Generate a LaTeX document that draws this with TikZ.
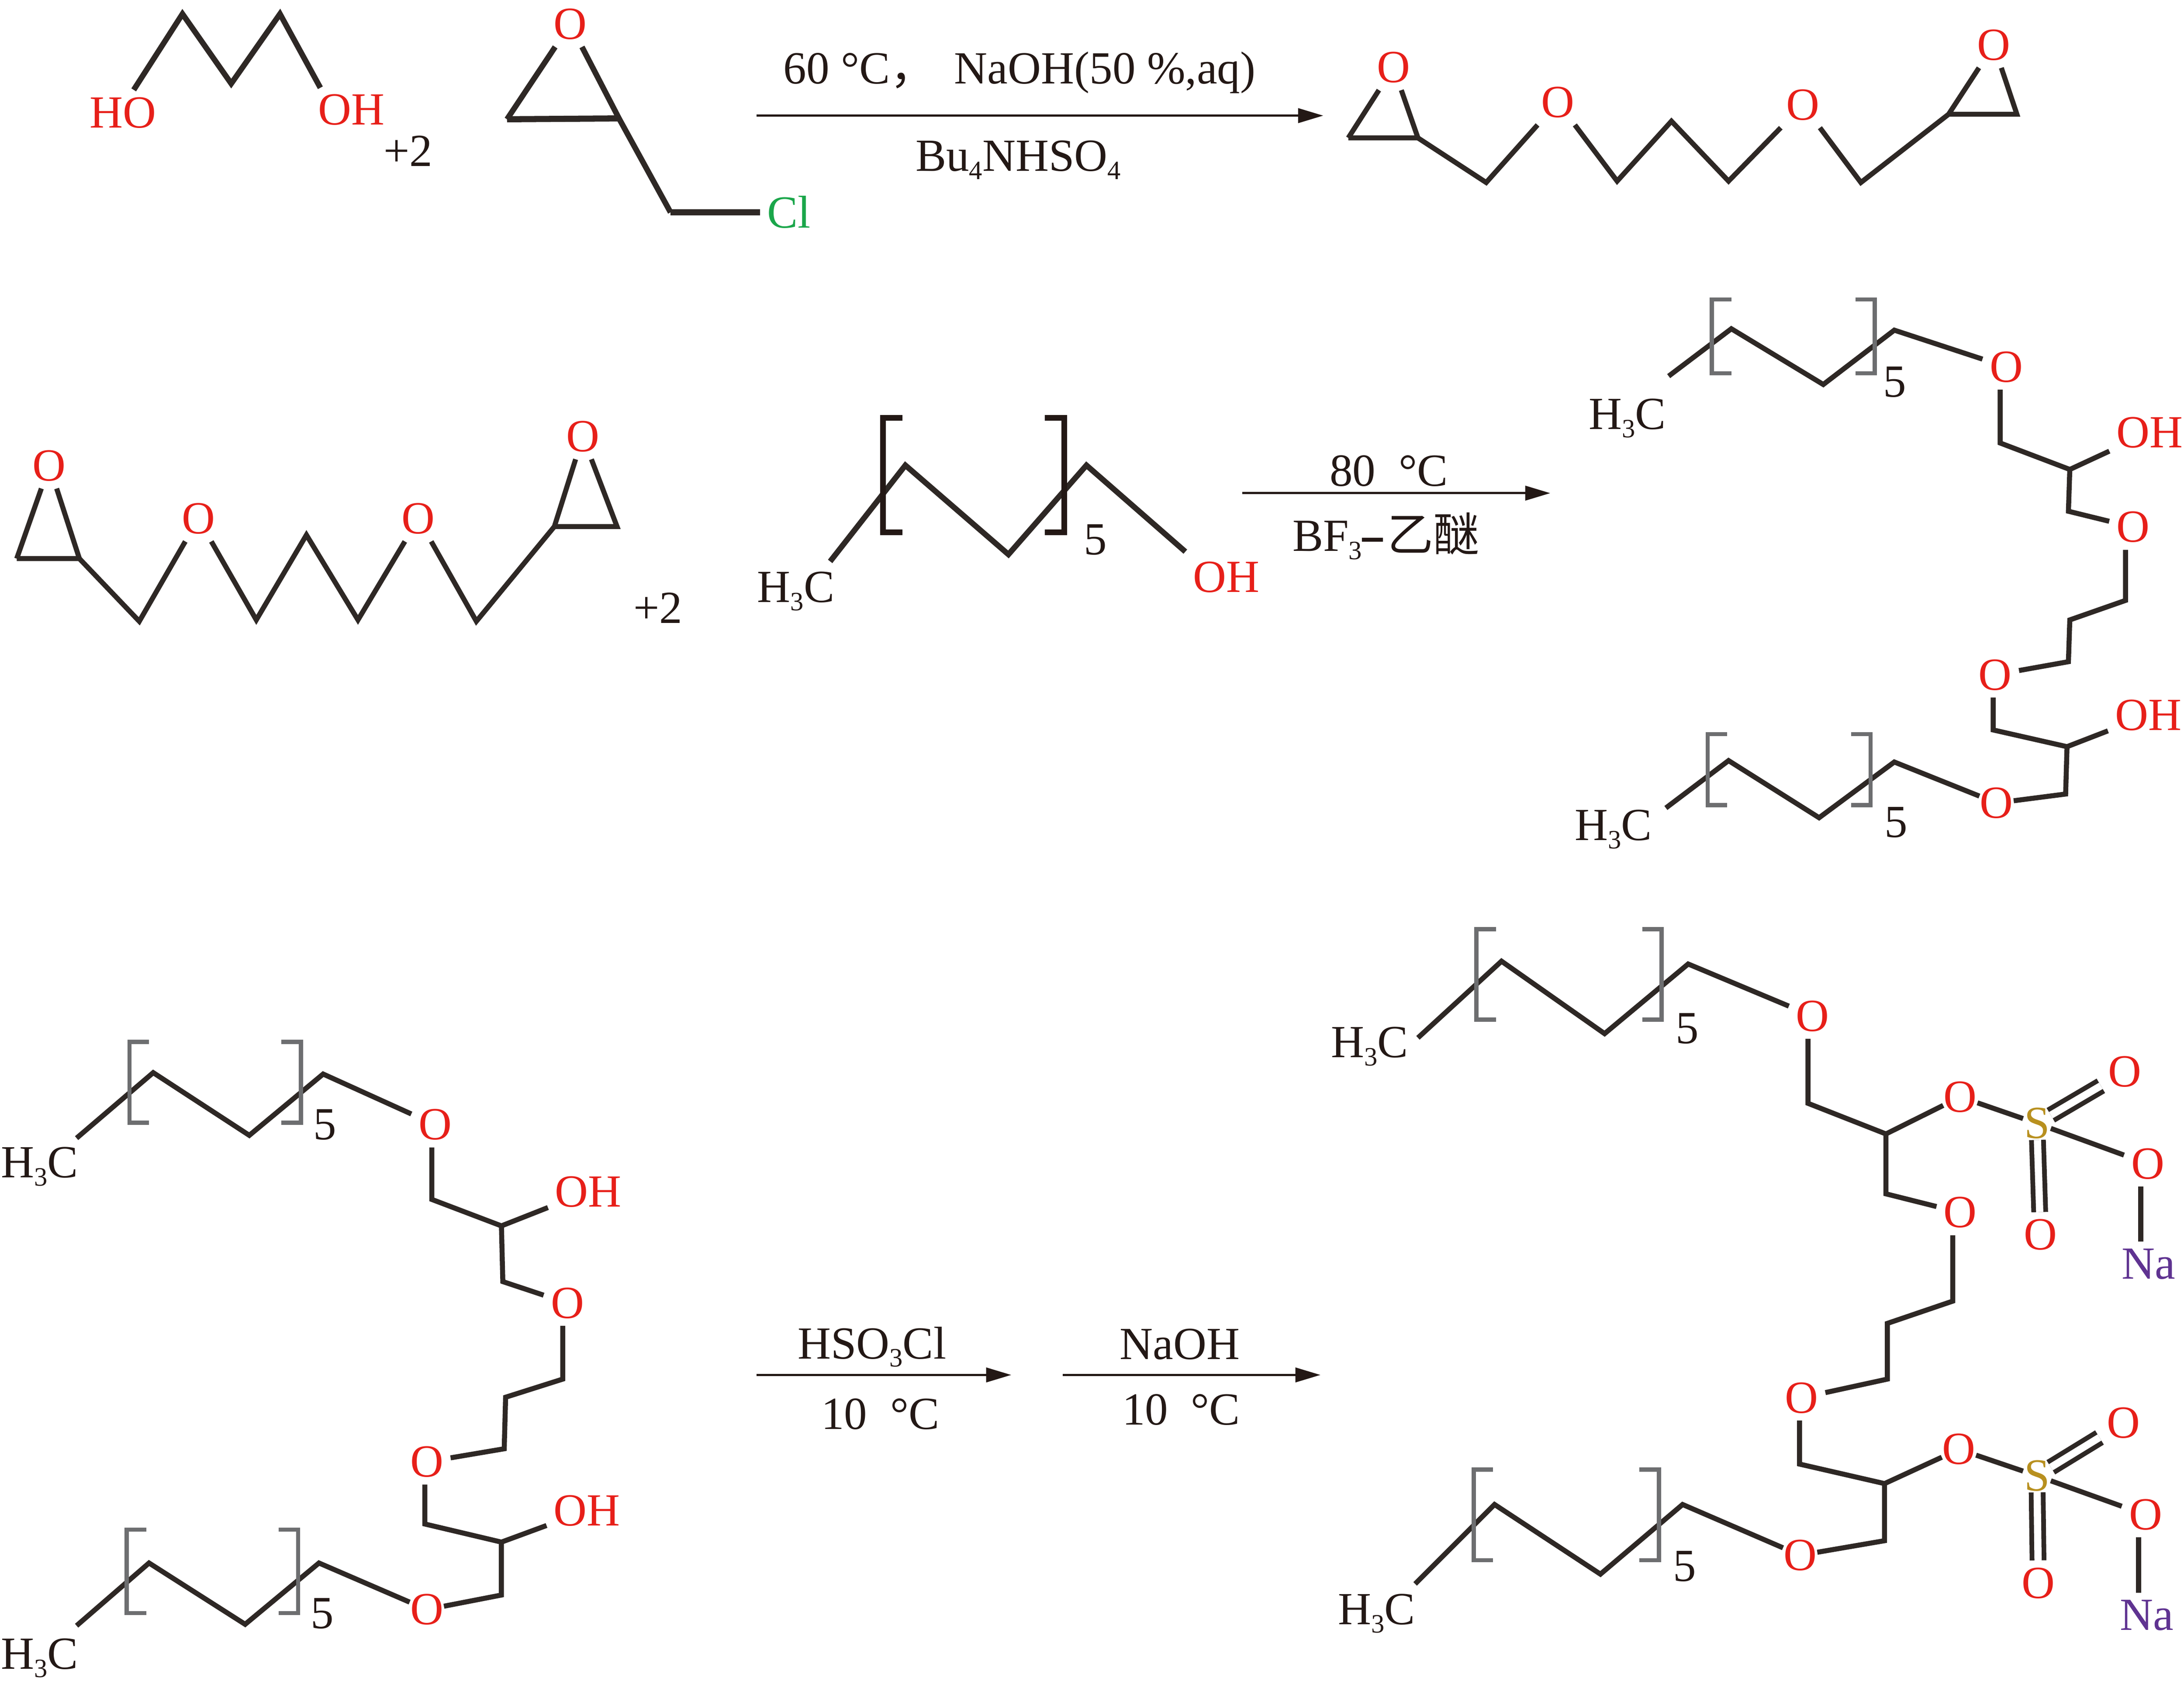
\documentclass[tikz,border=0pt]{standalone}
\usepackage{fontspec}
\setmainfont{Liberation Serif}
\newfontfamily\cjkfont{Noto Sans CJK SC}
\usetikzlibrary{arrows.meta}
\definecolor{ink}{HTML}{2E2825}
\definecolor{tipink}{HTML}{231815}
\definecolor{oxred}{HTML}{E71F19}
\definecolor{clgreen}{HTML}{1AA64A}
\definecolor{napurple}{HTML}{5F3391}
\definecolor{sgold}{HTML}{B8901F}
\definecolor{brkgray}{HTML}{6D6E70}
\newcommand{\lowsub}[1]{\raisebox{-0.18em}[0pt][0pt]{\fontsize{9.5}{9.5}\selectfont #1}}
\newcommand{\atomfont}{\fontsize{16.5}{18}\selectfont}
\tikzset{
  bond/.style={draw=ink,line width=1.8pt,line join=miter},
  heavybond/.style={bond,line width=2pt},
  thickbase/.style={bond,line width=2.2pt},
  dbl/.style={draw=ink,line width=1.7pt,double=white,double distance=2.6pt},
  atom/.style={font=\atomfont,inner sep=0pt,outer sep=2.6pt,xshift=0.2pt,yshift=-0.2pt},
  ox/.style={atom,text=oxred},
  oxtight/.style={ox,outer sep=0.2pt},
  blk/.style={atom,text=tipink},
  sul/.style={atom,text=sgold,outer sep=0.4pt},
  sod/.style={atom,text=napurple},
  chl/.style={atom,text=clgreen},
  rxn/.style={font=\atomfont,inner sep=0pt,text=tipink},
  rxnarrow/.style={draw=tipink,line width=0.75pt,-{Triangle[length=9pt,width=5.2pt]}},
  graybrk/.style={draw=brkgray,line width=1.5pt,line join=miter},
  blackbrk/.style={draw=tipink,line width=2pt,line join=miter}
}
% \brkpair{style}{left x}{right x}{top y}{bottom y}
\newcommand{\brkpair}[5]{%
  \draw[#1] (#2+14,#4) -- (#2,#4) -- (#2,#5) -- (#2+14,#5);
  \draw[#1] (#3-14,#4) -- (#3,#4) -- (#3,#5) -- (#3-14,#5);}
\newcommand{\pts}[1]{\foreach \n/\x/\y in {#1}{\coordinate (\n) at (\x,\y);}}
\begin{document}
\begin{tikzpicture}[x=0.5pt,y=-0.5pt]
\useasboundingbox (0,0) rectangle (1568,1211.5);
% ---------- row 1
\pts{a1/96/64.5,a2/131/10,a3/166/60,a4/201/10,a5/230/63,
 b1/364/85.6,b2/444.4/85,b3/481.4/152.4}
\node[ox] (hoa) at (88,80.6) {HO};
\node[ox] (oha) at (252,78.4) {OH};
\node[blk] (plusa) at (292.6,108) {+2};
\node[ox] (ob) at (409,17) {O};
\node[chl] (clb) at (566,152) {Cl};
\draw[heavybond] (a1)--(a2)--(a3)--(a4)--(a5);
\draw[heavybond] (ob)--(b1);
\draw[heavybond] (ob)--(b2)--(b3);
\draw[thickbase] (b1)--(b2);
\draw[thickbase] (b3)--(clb);
\coordinate (ar1s) at (543,83); \coordinate (ar1e) at (950,83);
\draw[rxnarrow] (ar1s)--(ar1e);
\node[rxn] (ar1t) at (732,52) {60 °C{\cjkfont ，}\hspace{0.4em}NaOH(50 \%,aq)};
\node[rxn] (ar1b) at (731,112) {Bu\lowsub{4}NHSO\lowsub{4}};
% product 1
\pts{c1/968/99,c2/1018/99,c3/1067/131,c4/1161/130,c5/1200/87,c6/1241/130,c7/1336/131,c8/1399/82,c9/1448/82}
\node[ox] (oc1) at (1000,48) {O};
\node[ox] (oc2) at (1118,73) {O};
\node[ox] (oc3) at (1294,75) {O};
\node[ox] (oc4) at (1431,32) {O};
\draw[bond] (c1)--(oc1)--(c2)--(c1);
\draw[bond] (c2)--(c3)--(oc2)--(c4)--(c5)--(c6)--(oc3)--(c7)--(c8)--(c9)--(oc4)--(c8);
% ---------- row 2 left
\pts{d1/12/401,d2/57/401,d3/100/446,d4/184/445,d5/220/384,d6/257/445,d7/342/446,d8/398/378,d9/443/378}
\node[ox] (od1) at (35,334) {O};
\node[ox] (od2) at (142,372) {O};
\node[ox] (od3) at (300,372) {O};
\node[ox] (od4) at (418,313) {O};
\node[blk] (plusd) at (472,436) {+2};
\draw[bond] (d1)--(od1)--(d2)--(d1);
\draw[bond] (d2)--(d3)--(od2)--(d4)--(d5)--(d6)--(od3)--(d7)--(d8)--(d9)--(od4)--(d8);
% row 2 middle
\pts{e0/596/403,e1/650/334,e2/724/398,e3/780/334,e4/851/396}
\node[blk] (hc3e) at (571,421) {H\lowsub{3}C};
\node[ox] (ohe) at (880,414) {OH};
\node[blk] (five) at (786,387) {5};
\draw[heavybond] (e0)--(e1)--(e2)--(e3)--(e4);
\brkpair{blackbrk}{634}{764}{300}{382}
\coordinate (ar2s) at (892,354); \coordinate (ar2e) at (1113,354);
\draw[rxnarrow] (ar2s)--(ar2e);
\node[rxn] (ar2t) at (997,338) {80\hspace{0.5em}°C};
\node[rxn] (ar2b) at (995,383) {BF\lowsub{3}\rule[0.2em]{0.45em}{0.09em}\hspace{0.1em}{\cjkfont 乙醚}};
% row 2 right molecule
\pts{f0/1198/270,f1/1243/236,f2/1309/276,f3/1360/237,f4/1436/318,f5/1486/337,f6/1485/367,f7/1526/431,f8/1486/445,f9/1485/475,f10/1431/524,f11/1484/536,f12/1483/570,f13/1360/547,f14/1306/587,f15/1241/546,f16/1196/580}
\node[blk] (hcf1) at (1168,297) {H\lowsub{3}C};
\node[blk] (hcf2) at (1158,592) {H\lowsub{3}C};
\node[blk] (fivef1) at (1360,274) {5};
\node[blk] (fivef2) at (1361,590) {5};
\node[ox] (of1) at (1440,263) {O};
\node[ox] (of2) at (1531,378) {O};
\node[ox] (of3) at (1432,484) {O};
\node[oxtight] (of4) at (1433,576) {O};
\node[ox] (ohf1) at (1543,310) {OH};
\node[ox] (ohf2) at (1542,513) {OH};
\draw[bond] (f0)--(f1)--(f2)--(f3)--(of1) (of1.south -| f4)--(f4)--(f5)--(f6)--(of2) (of2.south -| f7)--(f7)--(f8)--(f9)--(of3) (of3.south -| f10)--(f10)--(f11)--(f12)--(of4)--(f13)--(f14)--(f15)--(f16);
\draw[bond] (f5)--(ohf1);
\draw[bond] (f11)--(ohf2);
\brkpair{graybrk}{1229}{1346}{215}{268}
\brkpair{graybrk}{1226}{1343}{527}{578}
% ---------- row 3 left molecule
\pts{g0/55/817,g1/110/770,g2/179/815,g3/232/771,g4/310/861,g5/360/880,g6/361/920,g7/404/990,g8/363/1003,g9/362/1040,g10/305/1094,g11/360/1107,g12/360/1145,g13/229/1122,g14/176/1166,g15/107/1122,g16/55/1167}
\node[blk] (hcg1) at (28,834) {H\lowsub{3}C};
\node[blk] (hcg2) at (28,1187) {H\lowsub{3}C};
\node[blk] (fiveg1) at (233,807) {5};
\node[blk] (fiveg2) at (231,1158) {5};
\node[ox] (og1) at (312,807) {O};
\node[ox] (og2) at (407,935) {O};
\node[ox] (og3) at (306,1049) {O};
\node[oxtight] (og4) at (306,1155) {O};
\node[ox] (ohg1) at (422,855) {OH};
\node[ox] (ohg2) at (421,1084) {OH};
\draw[bond] (g0)--(g1)--(g2)--(g3)--(og1) (og1.south -| g4)--(g4)--(g5)--(g6)--(og2) (og2.south -| g7)--(g7)--(g8)--(g9)--(og3) (og3.south -| g10)--(g10)--(g11)--(g12)--(og4)--(g13)--(g14)--(g15)--(g16);
\draw[bond] (g5)--(ohg1);
\draw[bond] (g11)--(ohg2);
\brkpair{graybrk}{93}{216}{748}{806}
\brkpair{graybrk}{91}{214}{1098}{1158}
% arrows row 3
\coordinate (ar3s) at (543,987); \coordinate (ar3e) at (726,987);
\coordinate (ar4s) at (763,987); \coordinate (ar4e) at (948,987);
\draw[rxnarrow] (ar3s)--(ar3e);
\draw[rxnarrow] (ar4s)--(ar4e);
\node[rxn] (ar3t) at (626,964) {HSO\lowsub{3}Cl};
\node[rxn] (ar3b) at (632,1015) {10\hspace{0.5em}°C};
\node[rxn] (ar4t) at (847,965) {NaOH};
\node[rxn] (ar4b) at (848,1012) {10\hspace{0.5em}°C};
% ---------- row 3 right molecule
\pts{h0/1018/745,h1/1078/690,h2/1152/742,h3/1212/692,h4/1298/792,h5/1354/814,h6/1354/857,h7/1402/934,h8/1355/950,h9/1355/990,h10/1292/1051,h11/1353/1065,h12/1353/1106,h13/1208/1080,h14/1149/1130,h15/1073/1080,h16/1016/1137}
\node[blk] (hch1) at (983,748) {H\lowsub{3}C};
\node[blk] (hch2) at (988,1155) {H\lowsub{3}C};
\node[blk] (fiveh1) at (1211,738) {5};
\node[blk] (fiveh2) at (1209,1124) {5};
\node[ox] (oh1) at (1301,729) {O};
\node[ox] (oh2) at (1407,870) {O};
\node[ox] (oh3) at (1293,1003) {O};
\node[oxtight] (oh4) at (1292,1116) {O};
\node[oxtight] (oh5) at (1407,787) {O};
\node[oxtight] (oh6) at (1406,1040) {O};
\node[sul] (s1) at (1462,806) {S};
\node[sul] (s2) at (1462,1059) {S};
\node[ox] (os1a) at (1525,769) {O};
\node[ox] (os1b) at (1464.5,886) {O};
\node[ox] (os1c) at (1541.6,835) {O};
\node[ox] (os2a) at (1524,1021) {O};
\node[ox] (os2b) at (1463,1136) {O};
\node[ox] (os2c) at (1540,1087) {O};
\node[sod] (na1) at (1542,907) {Na};
\node[sod] (na2) at (1541,1159) {Na};
\draw[bond] (h0)--(h1)--(h2)--(h3)--(oh1) (oh1.south -| h4)--(h4)--(h5)--(h6)--(oh2) (oh2.south -| h7)--(h7)--(h8)--(h9)--(oh3) (oh3.south -| h10)--(h10)--(h11)--(h12)--(oh4)--(h13)--(h14)--(h15)--(h16);
\draw[bond] (h5)--(oh5);
\draw[bond] (h11)--(oh6);
\draw[bond] (oh5)--(s1)--(os1c);
\draw[bond] ([xshift=-2.5pt]os1c.south)--([xshift=-2.5pt]os1c.south |- na1.north);
\draw[dbl] (s1)--(os1a);
\draw[dbl] (s1)--(os1b);
\draw[bond] (oh6)--(s2)--(os2c);
\draw[bond] ([xshift=-2.5pt]os2c.south)--([xshift=-2.5pt]os2c.south |- na2.north);
\draw[dbl] (s2)--(os2a);
\draw[dbl] (s2)--(os2b);
\brkpair{graybrk}{1060}{1193}{667}{732}
\brkpair{graybrk}{1058}{1191}{1055}{1120}
\end{tikzpicture}
\end{document}
